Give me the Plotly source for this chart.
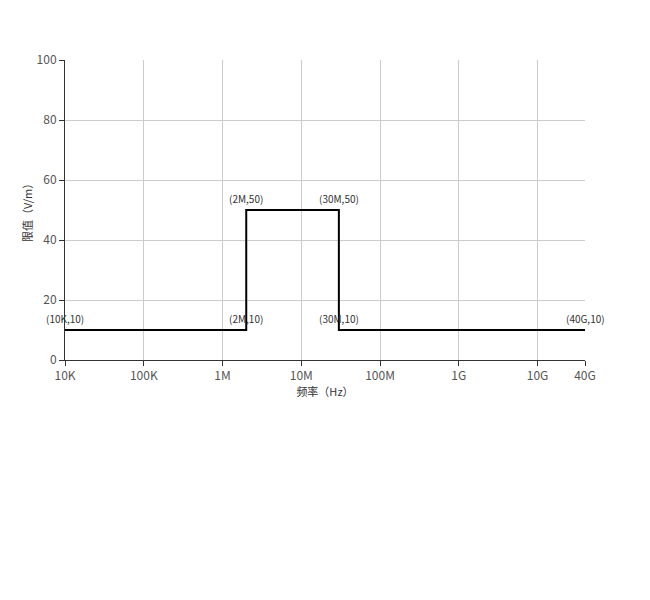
import math
import plotly.graph_objects as go

freq = [1e4, 2e6, 2e6, 3e7, 3e7, 4e10]
limit = [10, 10, 50, 50, 10, 10]
point_labels = ["(10K,10)", "(2M,10)", "(2M,50)", "(30M,50)", "(30M,10)", "(40G,10)"]
tick_vals = [1e4, 1e5, 1e6, 1e7, 1e8, 1e9, 1e10, 4e10]
tick_text = ["10K", "100K", "1M", "10M", "100M", "1G", "10G", "40G"]

font = "Noto Sans CJK SC, Microsoft YaHei, sans-serif"

fig = go.Figure()
fig.add_trace(go.Scatter(
    x=freq, y=limit, mode="lines",
    line=dict(color="#000000", width=2),
    hoverinfo="skip", showlegend=False, cliponaxis=False,
))

for fx, fy, lab in zip(freq, limit, point_labels):
    fig.add_annotation(
        x=math.log10(fx), y=fy, text=lab, showarrow=False,
        xanchor="center", yanchor="bottom", yshift=2,
        font=dict(size=10, color="#333333", family=font),
    )

fig.update_layout(
    width=650, height=600,
    margin=dict(l=57, r=73, t=52, b=248),
    paper_bgcolor="white", plot_bgcolor="white",
    font=dict(family=font, size=12, color="#555555"),
    xaxis=dict(
        type="log", range=[4, 10.60206],
        tickvals=tick_vals, ticktext=tick_text,
        showgrid=True, gridcolor="#cccccc", gridwidth=1,
        showline=True, linecolor="#333333", linewidth=1,
        ticks="outside", ticklen=5, tickcolor="#333333",
        tickfont=dict(size=12, color="#555555"),
        title=dict(text="频率（Hz）", font=dict(size=11, color="#333333"), standoff=4),
        zeroline=False,
    ),
    yaxis=dict(
        range=[0, 100], tickvals=[0, 20, 40, 60, 80, 100],
        showgrid=True, gridcolor="#cccccc", gridwidth=1,
        showline=True, linecolor="#333333", linewidth=1,
        ticks="outside", ticklen=5, tickcolor="#333333",
        tickfont=dict(size=12, color="#555555"),
        title=dict(text="限值（V/m）", font=dict(size=11, color="#333333"), standoff=1),
        zeroline=False,
    ),
)

fig.write_html("out.html")
